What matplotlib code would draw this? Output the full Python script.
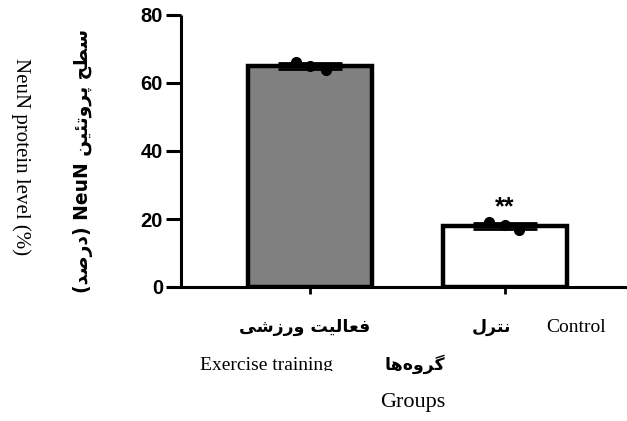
import matplotlib
matplotlib.use("Agg")
import matplotlib.pyplot as plt
from matplotlib.transforms import Bbox

# Group data: bar means, SEM and the individual samples (as offsets from bar centre)
groups_fa = ["فعالیت ورزشی", "نترل"]
groups_en = ["Exercise training", "Control"]
means = [65.0, 18.0]
sems = [0.9, 0.9]
points = [[66.2, 65.0, 63.8], [19.1, 18.2, 16.8]]
point_offsets = [[-0.07, 0.0, 0.08], [-0.08, 0.0, 0.07]]
bar_colors = ["#808080", "#ffffff"]
sig_labels = ["", "**"]
yticks = [0, 20, 40, 60, 80]

ylabel_fa = "سطح پروتئین NeuN (درصد)"
ylabel_en = "NeuN protein level (%)"
xlabel_fa = "گروه\u200cها"
xlabel_en = "Groups"

# --- minimal Persian shaping (matplotlib has no complex text layout) ---
# isolated, final, initial, medial; two entries = joins only to the right
FORMS = {
    "ا": (0xFE8D, 0xFE8E), "د": (0xFEA9, 0xFEAA), "ر": (0xFEAD, 0xFEAE),
    "ز": (0xFEAF, 0xFEB0), "و": (0xFEED, 0xFEEE),
    "ت": (0xFE95, 0xFE96, 0xFE97, 0xFE98), "پ": (0xFB56, 0xFB57, 0xFB58, 0xFB59),
    "ح": (0xFEA1, 0xFEA2, 0xFEA3, 0xFEA4), "س": (0xFEB1, 0xFEB2, 0xFEB3, 0xFEB4),
    "ش": (0xFEB5, 0xFEB6, 0xFEB7, 0xFEB8), "ص": (0xFEB9, 0xFEBA, 0xFEBB, 0xFEBC),
    "ط": (0xFEC1, 0xFEC2, 0xFEC3, 0xFEC4), "ع": (0xFEC9, 0xFECA, 0xFECB, 0xFECC),
    "ف": (0xFED1, 0xFED2, 0xFED3, 0xFED4), "گ": (0xFB92, 0xFB93, 0xFB94, 0xFB95),
    "ل": (0xFEDD, 0xFEDE, 0xFEDF, 0xFEE0), "ن": (0xFEE5, 0xFEE6, 0xFEE7, 0xFEE8),
    "ه": (0xFEE9, 0xFEEA, 0xFEEB, 0xFEEC), "ی": (0xFBFC, 0xFBFD, 0xFBFE, 0xFBFF),
    "ئ": (0xFE89, 0xFE8A, 0xFE8B, 0xFE8C),
}
MIRROR = {"(": ")", ")": "("}


def shape_word(word):
    out = []
    for i, ch in enumerate(word):
        if ch not in FORMS:
            out.append(MIRROR.get(ch, ch))
            continue
        prev = word[i - 1] if i > 0 else ""
        nxt = word[i + 1] if i + 1 < len(word) else ""
        f = FORMS[ch]
        join_prev = prev in FORMS and len(FORMS[prev]) == 4
        join_next = len(f) == 4 and nxt in FORMS
        if join_prev and join_next:
            k = 3
        elif join_prev:
            k = 1
        elif join_next:
            k = 2
        else:
            k = 0
        out.append(chr(f[k]))
    return "".join(out[::-1]).replace("\u200c", "")


def fa(text):
    words = []
    for w in text.split(" "):
        if any(c in FORMS for c in w):
            words.append(shape_word(w))
        else:
            words.append(w)
    return " ".join(words[::-1])


W, H = 627, 421
fig = plt.figure(figsize=(W / 100, H / 100), dpi=100)


def px(x, y):
    return x / W, 1 - y / H


ax = fig.add_axes([181 / W, 1 - 287 / H, (W - 181) / W, (287 - 15) / H])

x = [0, 1]
ax.bar(x, means, width=0.64, color=bar_colors, edgecolor="black",
       linewidth=3.2, zorder=2)
ax.errorbar(x, means, yerr=sems, fmt="none", ecolor="black", elinewidth=2,
            capsize=23, capthick=2, zorder=3)
for xi, pts, offs in zip(x, points, point_offsets):
    ax.plot([xi + o for o in offs], pts, "o", color="black", ms=7, zorder=4)
for xi, m, s, lab in zip(x, means, sems, sig_labels):
    if lab:
        ax.text(xi, m + s + 2.6, lab, ha="center", va="baseline",
                fontsize=18, fontweight="bold", family="Liberation Sans")

ax.set_xlim(-0.662, 1.626)
ax.set_ylim(0, 80)
for side in ["top", "right"]:
    ax.spines[side].set_visible(False)
for side in ["left", "bottom"]:
    ax.spines[side].set_linewidth(2.2)
ax.spines["left"].set_capstyle("butt")

ax.set_yticks(yticks)
ax.set_yticklabels([str(v) for v in yticks], fontsize=14.5, fontweight="bold",
                   family="Liberation Sans")
ax.tick_params(axis="y", length=11, width=2.2, pad=2)
ax.set_xticks(x)
ax.set_xticklabels([])
ax.tick_params(axis="x", length=5, width=2)

# axis titles and group names, Persian (bold) and English (serif)
fa_font = dict(family="DejaVu Sans", fontweight="bold", ha="center", va="center")
en_font = dict(family="Liberation Serif", ha="center", va="center")

fig.text(*px(83, 161), fa(ylabel_fa), rotation=90, fontsize=13.5, **fa_font)
fig.text(*px(21, 157), ylabel_en, rotation=-90, fontsize=15, **en_font)

fig.text(*px(305, 327), fa(groups_fa[0]), fontsize=12.5, **fa_font)
fig.text(*px(491, 327), fa(groups_fa[1]), fontsize=12.5, **fa_font)
fig.text(*px(576, 327), groups_en[1], fontsize=14, **en_font)
fig.text(*px(415, 364), fa(xlabel_fa), fontsize=12.5, **fa_font)
ex = fig.text(*px(266, 366), groups_en[0], fontsize=14, **en_font)
ex.set_clip_box(Bbox([[0, H - 371], [W, H]]))
ex.set_clip_on(True)
fig.text(*px(413, 403), xlabel_en, fontsize=16, **en_font)

fig.savefig("out.png", dpi=100)
